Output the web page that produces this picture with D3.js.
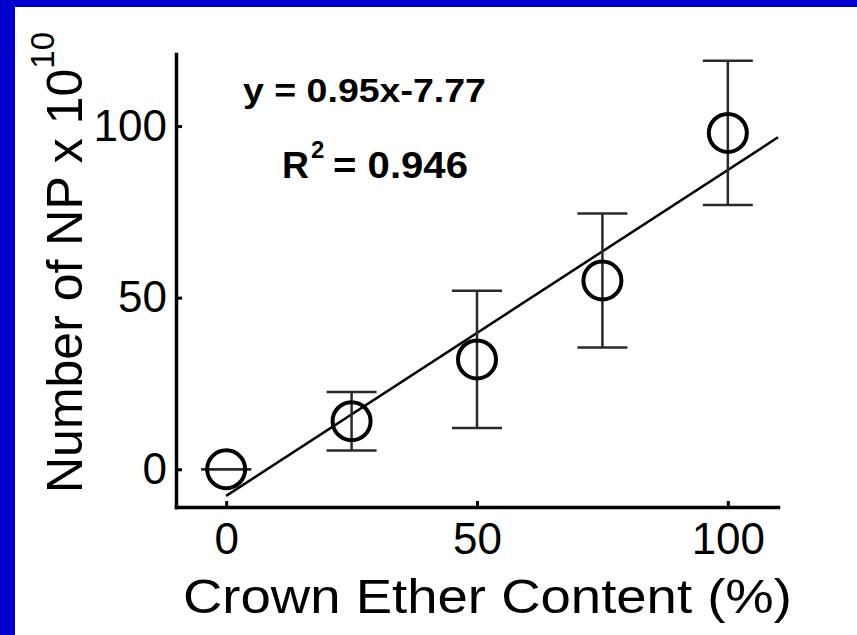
<!DOCTYPE html>
<html>
<head>
<meta charset="utf-8">
<script src="https://cdn.jsdelivr.net/npm/d3@7"></script>
<style>
  html, body { margin: 0; padding: 0; background: #fff; }
  svg { display: block; }
  text { font-family: "Liberation Sans", Arial, Helvetica, sans-serif; fill: #000; }
</style>
</head>
<body>
<script>
// Crown ether content (%) vs. number of nanoparticles (x 10^10)
const contents  = [0, 25, 50, 75, 100];
const npCounts  = [0, 14, 32, 55, 98];
const npErrors  = [0, 8.5, 20, 19.5, 21];
const fitSlope = 0.95;
const fitIntercept = -7.77;
const xTicks = [0, 50, 100];
const yTicks = [0, 50, 100];
const xDomain = [-10, 110];
const yDomain = [-11, 121];
const fitRange = [0, 110];

const W = 857, H = 635;
const svg = d3.select("body").append("svg").attr("width", W).attr("height", H);

// white page with blue frame on the top and left
svg.append("rect").attr("width", W).attr("height", H).attr("fill", "#fff");
svg.append("rect").attr("x", 0).attr("y", 0).attr("width", W).attr("height", 7).attr("fill", "#0000cc");
svg.append("rect").attr("x", 0).attr("y", 0).attr("width", 15).attr("height", H).attr("fill", "#0000cc");

const x = d3.scaleLinear().domain(xDomain).range([176, 778]);
const y = d3.scaleLinear().domain(yDomain).range([507, 54]);

// axes with short inward ticks
const gx = svg.append("g").attr("transform", `translate(0,${y.range()[0]})`)
  .call(d3.axisBottom(x).tickValues(xTicks).tickFormat(d3.format("d"))
    .tickSizeInner(-6).tickSizeOuter(0).tickPadding(16));
const gy = svg.append("g").attr("transform", `translate(${x.range()[0]},0)`)
  .call(d3.axisLeft(y).tickValues(yTicks).tickFormat(d3.format("d"))
    .tickSizeInner(-6).tickSizeOuter(0).tickPadding(9));
[gx, gy].forEach(g => {
  g.select(".domain").attr("stroke", "#000").attr("stroke-width", 3.5).attr("stroke-linecap", "square");
  g.selectAll(".tick line").attr("stroke", "#000").attr("stroke-width", 3);
  g.selectAll(".tick text").attr("font-size", 44).attr("fill", "#000")
    .style("font-family", '"Liberation Sans", Arial, sans-serif');
});

// linear fit
svg.append("line")
  .attr("x1", x(fitRange[0])).attr("y1", y(fitSlope * fitRange[0] + fitIntercept))
  .attr("x2", x(fitRange[1])).attr("y2", y(fitSlope * fitRange[1] + fitIntercept))
  .attr("stroke", "#000").attr("stroke-width", 2.5);

// error bars
const pts = contents.map((c, i) => ({ c, v: npCounts[i], e: npErrors[i] }));
const capHalf = 25;
const eb = svg.append("g").attr("stroke", "#2a2a2a").attr("stroke-width", 2.5);
pts.forEach(p => {
  eb.append("line").attr("x1", x(p.c)).attr("x2", x(p.c))
    .attr("y1", y(p.v - p.e)).attr("y2", y(p.v + p.e));
  [p.v - p.e, p.v + p.e].forEach(v => {
    eb.append("line").attr("x1", x(p.c) - capHalf).attr("x2", x(p.c) + capHalf)
      .attr("y1", y(v)).attr("y2", y(v));
  });
});

// markers
svg.append("g").selectAll("circle").data(pts).join("circle")
  .attr("cx", d => x(d.c)).attr("cy", d => y(d.v)).attr("r", 19)
  .attr("fill", "none").attr("stroke", "#000").attr("stroke-width", 4);

// axis titles
svg.append("text").attr("x", 183).attr("y", 613).attr("font-size", 49)
  .attr("textLength", 609).attr("lengthAdjust", "spacingAndGlyphs")
  .text("Crown Ether Content (%)");

const yl = svg.append("text").attr("transform", "translate(82,493) rotate(-90)").attr("font-size", 50);
yl.append("tspan").text("Number of NP x 10");
yl.append("tspan").attr("font-size", 33).attr("dy", -28).text("10");

// regression annotation
svg.append("text").attr("x", 243).attr("y", 102).attr("font-size", 34).attr("font-weight", "bold")
  .attr("textLength", 243).attr("lengthAdjust", "spacingAndGlyphs")
  .text("y = 0.95x-7.77");
svg.append("text").attr("x", 282).attr("y", 178).attr("font-size", 36).attr("font-weight", "bold")
  .attr("textLength", 27).attr("lengthAdjust", "spacingAndGlyphs").text("R");
svg.append("text").attr("x", 311).attr("y", 158).attr("font-size", 24).attr("font-weight", "bold").text("2");
svg.append("text").attr("x", 333).attr("y", 178).attr("font-size", 36).attr("font-weight", "bold")
  .attr("textLength", 135).attr("lengthAdjust", "spacingAndGlyphs").text("= 0.946");
</script>
</body>
</html>
